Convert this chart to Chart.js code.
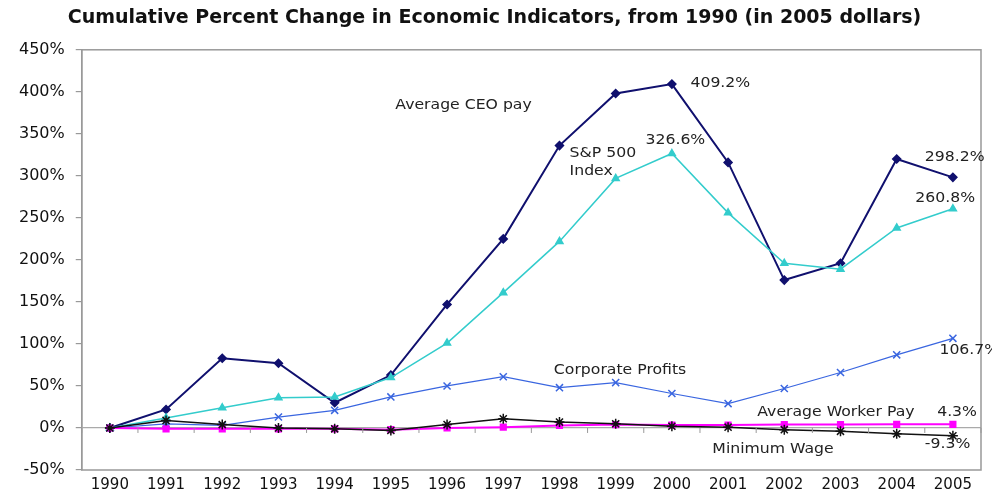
<!DOCTYPE html>
<html>
<head>
<meta charset="utf-8">
<script src="https://cdn.jsdelivr.net/npm/chart.js@4.4.1/dist/chart.umd.min.js"></script>
<style>
  body { margin: 0; background: #fff; }
  #wrap { width: 992px; height: 500px; }
</style>
</head>
<body>
<div id="wrap"><canvas id="econ"></canvas></div>
<script>
// years on the x axis
const years = ['1990','1991','1992','1993','1994','1995','1996','1997','1998','1999','2000','2001','2002','2003','2004','2005']

// cumulative % change since 1990
const ceoPay     = [0, 22, 83, 77, 30, 63, 147, 225, 336, 398, 409.2, 316, 176, 196, 320, 298.2]
const sp500      = [0, 12, 24, 36, 37, 60, 101, 161, 222, 297, 326.6, 256, 196, 189, 238, 260.8]
const corpProfit = [0, 5, 3, 13, 21, 37, 50, 61, 48, 54, 41, 29, 47, 66, 87, 106.7]
const workerPay  = [0, -1, -1, -1, -1, -2, 0, 1, 3, 4, 3.5, 3.5, 4, 4, 4.3, 4.3]
const minWage    = [0, 9, 4, 0, -1, -3, 4, 11, 7, 5, 2, 1, -2, -4, -7, -9.3]

const yTicks = [-50, 0, 50, 100, 150, 200, 250, 300, 350, 400, 450]

// text written inside the plot: [text, x index, y value]
const notes = [
  ['Average CEO pay', 5.08, 384],
  ['409.2%', 10.33, 410],
  ['S&P 500', 8.18, 327],
  ['Index', 8.18, 305],
  ['326.6%', 9.53, 342],
  ['298.2%', 14.5, 322],
  ['260.8%', 14.33, 273],
  ['106.7%', 14.76, 92],
  ['Corporate Profits', 7.9, 68],
  ['Average Worker Pay', 11.52, 19],
  ['4.3%', 14.72, 19],
  ['Minimum Wage', 10.72, -25],
  ['-9.3%', 14.5, -19]
]

// box round the plot, little ticks on the 0 line, and the labels
const boxAndNotes = {
  id: 'boxAndNotes',
  afterDatasetsDraw(chart) {
    const {ctx, chartArea: a, scales: {x, y}} = chart
    ctx.save()
    ctx.strokeStyle = '#999'
    ctx.lineWidth = 1.5
    ctx.strokeRect(a.left, a.top, a.right - a.left, a.bottom - a.top)
    // tick marks along the 0% line
    const y0 = y.getPixelForValue(0)
    ctx.lineWidth = 1
    ctx.beginPath()
    for (let i = 0; i <= years.length; i++) {
      const px = x.getPixelForValue(i - 0.5)
      ctx.moveTo(px, y0)
      ctx.lineTo(px, y0 + 5)
    }
    ctx.stroke()
    ctx.fillStyle = '#222'
    ctx.font = '14px "DejaVu Sans"'
    ctx.textBaseline = 'middle'
    ctx.textAlign = 'left'
    notes.forEach(n => {
      ctx.save()
      ctx.translate(x.getPixelForValue(n[1]), y.getPixelForValue(n[2]))
      ctx.scale(1.12, 1)
      ctx.fillText(n[0], 0, 0)
      ctx.restore()
    })
    ctx.restore()
  }
}

const mk = (label, data, color, style, r, w) => ({
  label: label,
  data: data,
  borderColor: color,
  backgroundColor: color,
  pointStyle: style,
  pointRadius: r,
  pointBorderWidth: 1.5,
  borderWidth: w,
  tension: 0
})

new Chart(document.getElementById('econ'), {
  type: 'line',
  data: {
    labels: years,
    datasets: [
      mk('Minimum Wage', minWage, '#111111', 'star', 5, 1.5),
      mk('Average Worker Pay', workerPay, '#ff00ff', 'rect', 4, 2),
      mk('Corporate Profits', corpProfit, '#3a66e0', 'crossRot', 5, 1.2),
      mk('S&P 500 Index', sp500, '#33cccc', 'triangle', 4, 1.5),
      mk('Average CEO pay', ceoPay, '#10106e', 'rectRot', 4, 2)
    ]
  },
  options: {
    responsive: true,
    maintainAspectRatio: false,
    animation: false,
    layout: { padding: { left: 8, right: 11, top: 0, bottom: 0 } },
    plugins: {
      legend: { display: false },
      tooltip: { enabled: false },
      title: {
        display: true,
        text: 'Cumulative Percent Change in Economic Indicators, from 1990 (in 2005 dollars)',
        font: { family: 'DejaVu Sans', size: 19, weight: 'bold' },
        color: '#111',
        padding: { top: 7, bottom: 20 }
      }
    },
    scales: {
      x: {
        offset: true,
        grid: { display: true, drawOnChartArea: false, drawTicks: false },
        border: { display: false },
        ticks: { color: '#111', font: { family: 'DejaVu Sans', size: 15 }, padding: 6 }
      },
      y: {
        min: -50,
        max: 450,
        afterBuildTicks: ax => { ax.ticks = yTicks.map(v => ({value: v})) },
        grid: {
          color: c => c.tick.value === 0 ? '#aaa' : 'rgba(0,0,0,0)',
          tickColor: '#999',
          tickLength: 6,
          lineWidth: 1.2
        },
        border: { display: true, color: '#999', width: 1.5 },
        ticks: {
          color: '#111',
          font: { family: 'DejaVu Sans', size: 16 },
          padding: 11,
          callback: v => v + '%'
        }
      }
    }
  },
  plugins: [boxAndNotes]
})
</script>
</body>
</html>
